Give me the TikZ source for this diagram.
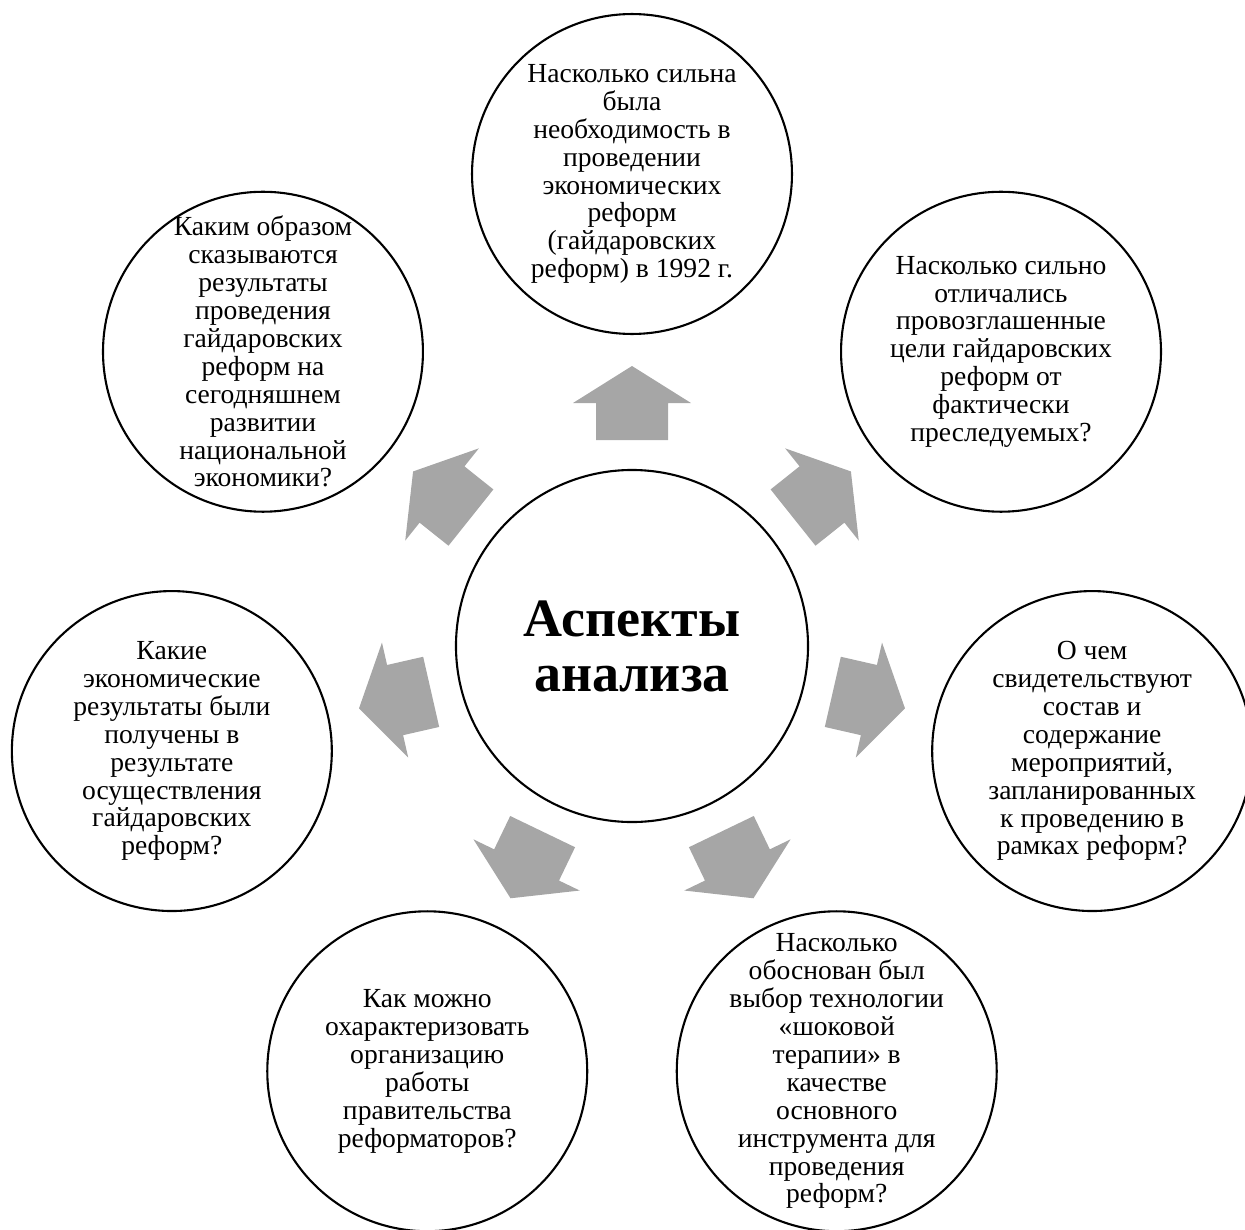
\documentclass[tikz,border=0pt]{standalone}
\usepackage{fontspec}
\setmainfont{Liberation Serif}
\usetikzlibrary{positioning}

\definecolor{arrowgray}{HTML}{A6A6A6}

\begin{document}
\begin{tikzpicture}[x=0.6667pt, y=0.6667pt,
    hub/.style={
        circle,
        draw=black,
        line width=1.4pt,
        minimum size=234.7pt,
        inner sep=0pt,
        align=center,
        font=\bfseries\fontsize{36}{36.7}\selectfont
    },
    ring/.style={
        circle,
        draw=black,
        line width=1.4pt,
        minimum size=213.3pt,
        inner sep=0pt
    },
    question/.style={
        align=center,
        inner sep=0pt,
        font=\fontsize{18.4}{18.6}\selectfont
    },
    blockarrow/.style={fill=arrowgray}]

    \useasboundingbox (-632,-583) rectangle (613,646);

    % Centre
    \node[hub] (hub) at (0,0) {Аспекты\\анализа};

    % Arrows out of the centre
    \foreach \a in {90, 38.57, -12.86, -64.29, -115.71, -167.14, 141.43}
        \fill[blockarrow, rotate=\a] (206,-36) -- (243,-36) -- (243,-59) -- (280,0)
            -- (243,59) -- (243,36) -- (206,36) -- cycle;

    % Question circles
    \node[ring] (need) at (90:472) {};
    \node[ring] (goals) at (38.57:472) {};
    \node[ring] (measures) at (-12.86:472) {};
    \node[ring] (shock) at (-64.29:472) {};
    \node[ring] (cabinet) at (-115.71:472) {};
    \node[ring] (results) at (-167.14:472) {};
    \node[ring] (today) at (141.43:472) {};

    % Question texts
    \node[question] (needtext) at (need) {Насколько сильна\\была\\необходимость в\\проведении\\экономических\\реформ\\(гайдаровских\\реформ) в 1992 г.};
    \node[question] (goalstext) at (goals) {Насколько сильно\\отличались\\провозглашенные\\цели гайдаровских\\реформ от\\фактически\\преследуемых?};
    \node[question] (measurestext) at (measures) {О чем\\свидетельствуют\\состав и\\содержание\\мероприятий,\\запланированных\\к проведению в\\рамках реформ?};
    \node[question] (shocktext) at (shock) {Насколько\\обоснован был\\выбор технологии\\«шоковой\\терапии» в\\качестве\\основного\\инструмента для\\проведения\\реформ?};
    \node[question] (cabinettext) at (cabinet) {Как можно\\охарактеризовать\\организацию\\работы\\правительства\\реформаторов?};
    \node[question] (resultstext) at (results) {Какие\\экономические\\результаты были\\получены в\\результате\\осуществления\\гайдаровских\\реформ?};
    \node[question] (todaytext) at (today) {Каким образом\\сказываются\\результаты\\проведения\\гайдаровских\\реформ на\\сегодняшнем\\развитии\\национальной\\экономики?};
\end{tikzpicture}
\end{document}
